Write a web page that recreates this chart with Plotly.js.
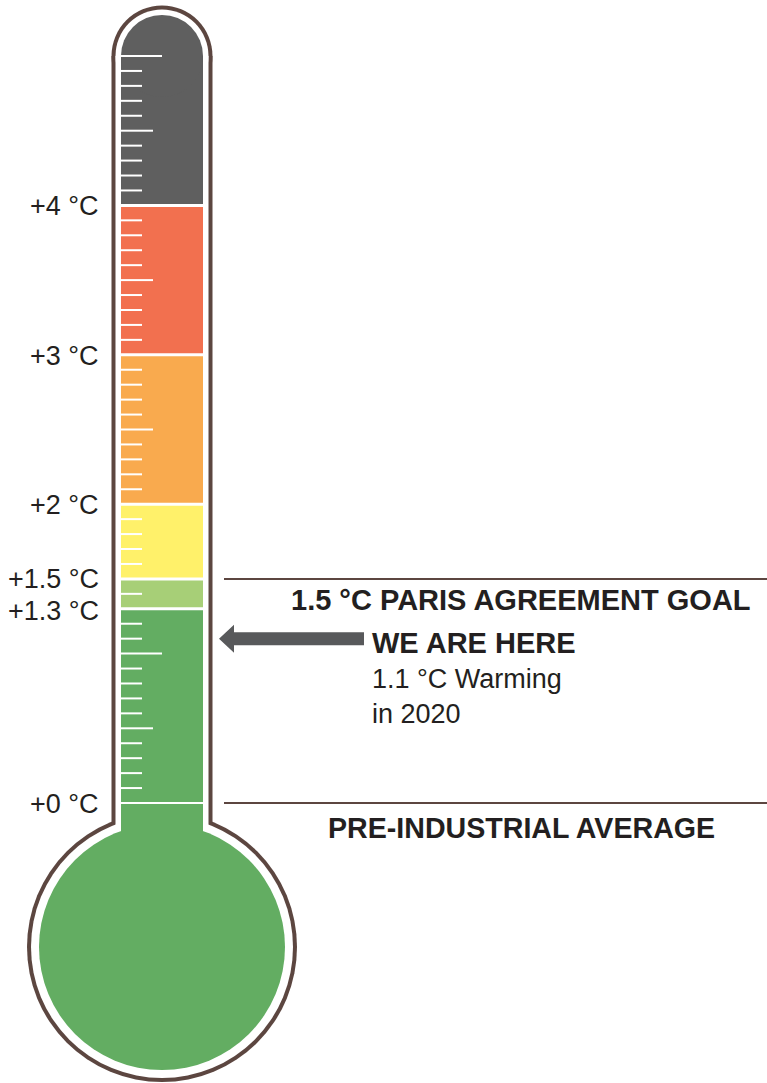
<!DOCTYPE html>
<html>
<head>
<meta charset="utf-8">
<script src="https://cdn.plot.ly/plotly-3.0.1.min.js"></script>
<style>
  html, body { margin: 0; padding: 0; background: #ffffff; }
  #chart { width: 767px; height: 1083px; }
</style>
</head>
<body>
<div id="chart"></div>
<script>
// ---------- data ----------
const bandLow    = [0, 1.3, 1.5, 2, 3, 4];
const bandHigh   = [1.3, 1.5, 2, 3, 4, 5];
const bandColors = ['#63ad62', '#a7cf77', '#fff16a', '#f9aa4e', '#f2704f', '#5f5f5f'];

const labelValues = [0, 1.3, 1.5, 2, 3, 4];
const labelTexts  = ['+0 °C', '+1.3 °C', '+1.5 °C', '+2 °C', '+3 °C', '+4 °C'];
const labelShift  = [-1, -2, 0, -1, -1, -1];

const tubeTop = 5;            // °C where the tube's rounded cap starts
const currentWarming = 1.1;   // arrow target
const parisGoal = 1.5;
const preIndustrial = 0;

const goalText = '<b>1.5 °C PARIS AGREEMENT GOAL</b>';
const baseText = '<b>PRE-INDUSTRIAL AVERAGE</b>';
const hereText = '<span style="font-size:29px"><b>WE ARE HERE</b></span><br>1.1 °C Warming<br>in 2020';

// ---------- geometry / styles ----------
const W = 767, H = 1083;
const PX_PER_DEG = 149.4;
const ZERO_PX = 803;
const yRange = [(ZERO_PX - H) / PX_PER_DEG, ZERO_PX / PX_PER_DEG];
const dv = px => px / PX_PER_DEG;       // pixel length -> °C length

const CX = 162;
const bulbCy = dv(ZERO_PX - 947);       // bulb centre in °C units
const brown = '#5c4640';
const font = 'Liberation Sans, Arial, Helvetica, sans-serif';
const textColor = '#231f20';

const shapes = [];
function circle(yc, r, color) {
  shapes.push({type: 'circle', layer: 'below', xref: 'x', yref: 'y',
    xsizemode: 'pixel', ysizemode: 'pixel', xanchor: CX, yanchor: yc,
    x0: -r, x1: r, y0: -r, y1: r, fillcolor: color, line: {width: 0}});
}
function rect(x0, x1, y0, y1, color) {
  shapes.push({type: 'rect', layer: 'below', xref: 'x', yref: 'y',
    x0: x0, x1: x1, y0: y0, y1: y1, fillcolor: color, line: {width: 0}});
}
function hline(x0, x1, y, color, w) {
  shapes.push({type: 'line', layer: 'below', xref: 'x', yref: 'y',
    x0: x0, x1: x1, y0: y, y1: y, line: {color: color, width: w}});
}

// outline (brown), inner white gap
circle(bulbCy, 135, brown);
rect(CX - 50.5, CX + 50.5, bulbCy, tubeTop, brown);
circle(tubeTop, 50.5, brown);
circle(bulbCy, 131, '#ffffff');
rect(CX - 46.5, CX + 46.5, bulbCy, tubeTop, '#ffffff');
circle(tubeTop, 46.5, '#ffffff');

// bulb + neck
circle(bulbCy, 123, bandColors[0]);
rect(CX - 41, CX + 41, bulbCy, preIndustrial, bandColors[0]);

// bands
for (let i = 0; i < bandLow.length; i++) {
  rect(CX - 41, CX + 41, bandLow[i], bandHigh[i], bandColors[i]);
}
circle(tubeTop, 41, bandColors[bandColors.length - 1]);

// white separators between bands
for (let i = 1; i < bandLow.length; i++) hline(CX - 41, CX + 41, bandLow[i], '#ffffff', 3);
hline(CX - 41, CX + 41, preIndustrial, '#ffffff', 2);

// reference lines
hline(224, W, parisGoal, brown, 2);
hline(224, W, preIndustrial, brown, 2);

// arrow
const aTip = 219, aBack = 234, aEnd = 364;
const sh = dv(6.5), hh = dv(14), yc = currentWarming;
shapes.push({type: 'path', layer: 'below', xref: 'x', yref: 'y',
  path: `M ${aTip},${yc} L ${aBack},${yc + hh} L ${aBack},${yc + sh} L ${aEnd},${yc + sh} ` +
        `L ${aEnd},${yc - sh} L ${aBack},${yc - sh} L ${aBack},${yc - hh} Z`,
  fillcolor: '#58595b', line: {width: 0}});

// ---------- tick marks (0.1 °C scale) ----------
const tx = [], ty = [];
const boundaries = bandLow.concat([]);
for (let i = 1; i <= 50; i++) {
  const v = i / 10;
  if (boundaries.some(b => Math.abs(b - v) < 1e-9)) continue;
  let end = 142;
  if (i % 10 === 0) end = 162;
  else if (i % 5 === 0) end = 153;
  tx.push(CX - 41, end, null);
  ty.push(v, v, null);
}

const traces = [{
  type: 'scatter', mode: 'lines', x: tx, y: ty,
  line: {color: '#ffffff', width: 2}, hoverinfo: 'skip', showlegend: false
}];

// ---------- annotations ----------
const annotations = [];
for (let i = 0; i < labelValues.length; i++) {
  annotations.push({x: 101, y: labelValues[i], xref: 'x', yref: 'y',
    text: labelTexts[i], showarrow: false, xanchor: 'right', yanchor: 'middle',
    yshift: labelShift[i], font: {family: font, size: 27, color: textColor}});
}
annotations.push({x: 521, y: parisGoal, xref: 'x', yref: 'y', text: goalText,
  showarrow: false, xanchor: 'center', yanchor: 'middle', yshift: -21,
  font: {family: font, size: 29, color: textColor}});
annotations.push({x: 521, y: preIndustrial, xref: 'x', yref: 'y', text: baseText,
  showarrow: false, xanchor: 'center', yanchor: 'middle', yshift: -25,
  font: {family: font, size: 28.6, color: textColor}});
annotations.push({x: 370, y: currentWarming, xref: 'x', yref: 'y', text: hereText,
  showarrow: false, xanchor: 'left', yanchor: 'top', align: 'left', yshift: 14,
  font: {family: font, size: 27, color: textColor}});

const layout = {
  width: W, height: H,
  margin: {l: 0, r: 0, t: 0, b: 0},
  paper_bgcolor: '#ffffff', plot_bgcolor: '#ffffff',
  showlegend: false,
  xaxis: {range: [0, W], visible: false, fixedrange: true},
  yaxis: {range: yRange, visible: false, fixedrange: true},
  shapes: shapes,
  annotations: annotations
};

Plotly.newPlot('chart', traces, layout, {displayModeBar: false, staticPlot: true});
</script>
</body>
</html>
